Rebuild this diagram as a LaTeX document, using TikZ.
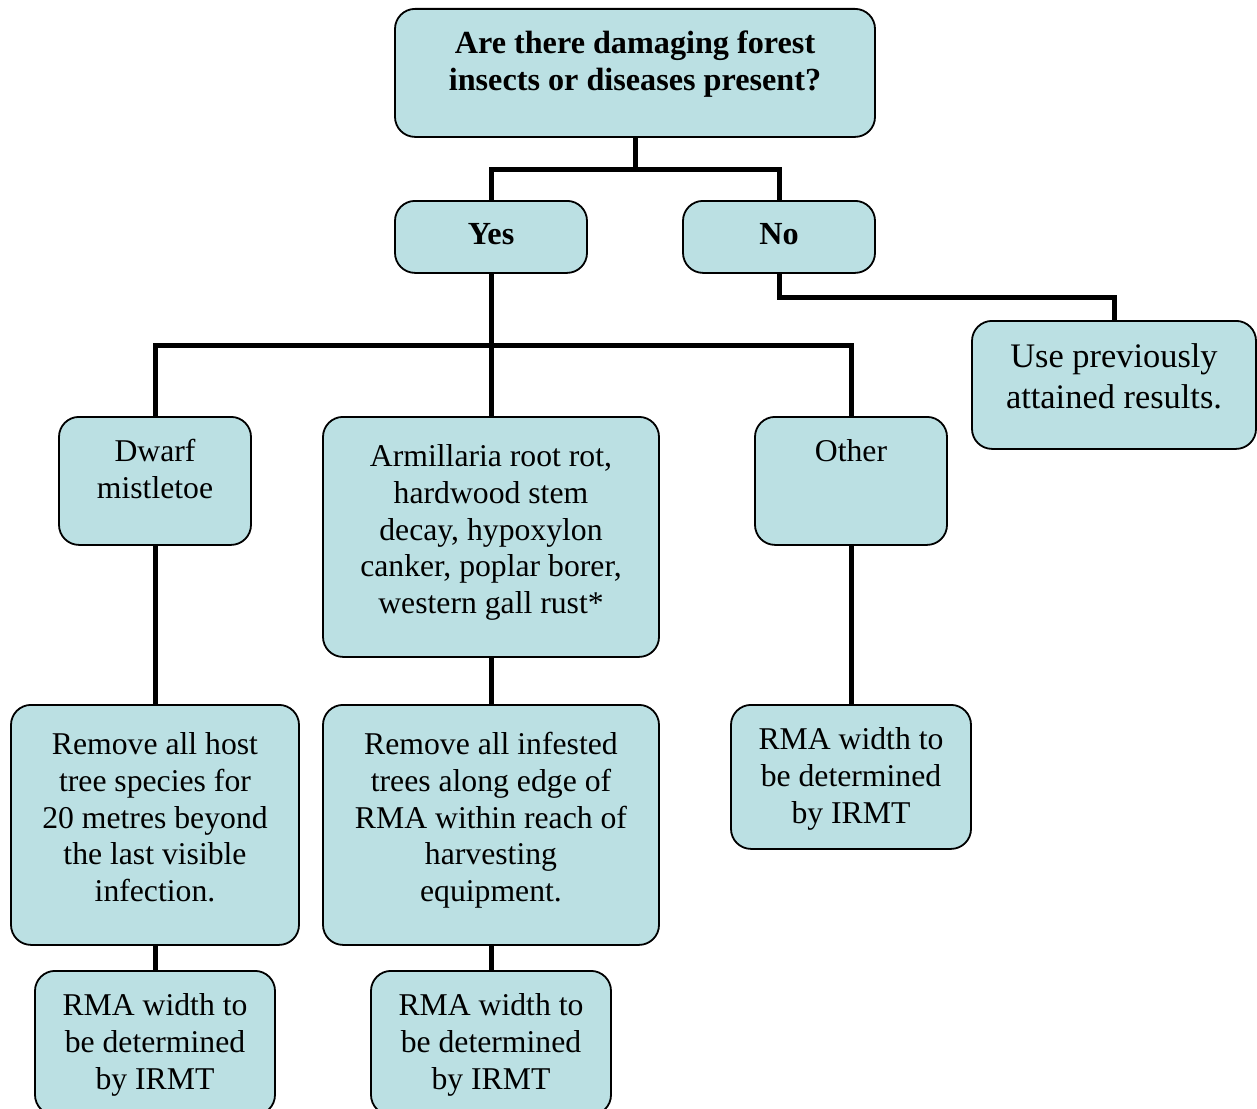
\documentclass[tikz,border=0pt]{standalone}
\usepackage{fontspec}
\setmainfont{Liberation Serif}
\definecolor{boxfill}{RGB}{187,224,227}

\begin{document}
\begin{tikzpicture}[
    x=1pt, y=-1pt,
    box/.style={draw=black, line width=1.8pt, fill=boxfill, rounded corners=20pt, anchor=north,
                align=center, inner xsep=0pt, inner ysep=0pt,
                font=\fontsize{31.7pt}{36.6pt}\selectfont},
    bold box/.style={box, font=\fontsize{32.2pt}{36.6pt}\selectfont\bfseries},
    small box/.style={box, minimum width=192pt},
    wide box/.style={box, minimum width=336pt},
    rma box/.style={box, minimum width=240pt, text height=118.2pt, text depth=25.8pt},
    link/.style={line width=5pt, draw=black}
]
\useasboundingbox (0,0) rectangle (1257,1108);

% question and the two answers
\node[bold box, minimum width=480pt, text height=81.6pt, text depth=46.4pt]
    (Q) at (635, 8) {Are there damaging forest\\insects or diseases present?};
\node[bold box, minimum width=192pt, text height=44pt, text depth=28pt] (Yes) at (491, 200) {Yes};
\node[bold box, minimum width=192pt, text height=44pt, text depth=28pt] (No)  at (779, 200) {No};
\node[box, minimum width=284pt, text height=87.5pt, text depth=40.5pt,
      font=\fontsize{34.4pt}{40.5pt}\selectfont] (Prev) at (1114, 320)
    {Use previously\\attained results.};

% kinds of pests
\node[small box, text height=81.6pt, text depth=46.4pt] (Dwarf) at (155, 416) {Dwarf\\mistletoe};
\node[wide box, text height=196.4pt, text depth=43.6pt] (Root) at (491, 416)
    {Armillaria root rot,\\hardwood stem\\decay, hypoxylon\\canker, poplar borer,\\western gall rust*};
\node[small box, text height=45pt, text depth=83pt] (Other) at (851, 416) {Other};

% treatments
\node[box, minimum width=288pt, text height=196.4pt, text depth=43.6pt] (Host) at (155, 704)
    {Remove all host\\tree species for\\20 metres beyond\\the last visible\\infection.};
\node[wide box, text height=196.4pt, text depth=43.6pt] (Infest) at (491, 704)
    {Remove all infested\\trees along edge of\\RMA within reach of\\harvesting\\equipment.};
\node[rma box] (RmaO) at (851, 704) {RMA width to\\be determined\\by IRMT};

% widths
\node[rma box] (RmaH) at (155, 970) {RMA width to\\be determined\\by IRMT};
\node[rma box] (RmaI) at (491, 970) {RMA width to\\be determined\\by IRMT};

% connectors
\draw[link] (Q.south) -- ++(0,32) coordinate (Qj) -| (Yes.north);
\draw[link] (Qj) -| (No.north);
\draw[link] (No.south) -- ++(0,24) -| (Prev.north);
\draw[link] (Yes.south) -- ++(0,72) coordinate (Yj) -| (Dwarf.north);
\draw[link] (Yj) -| (Other.north);
\draw[link] (Yes.south) -- (Root.north);
\draw[link] (Dwarf.south) -- (Host.north);
\draw[link] (Root.south) -- (Infest.north);
\draw[link] (Other.south) -- (RmaO.north);
\draw[link] (Host.south) -- (RmaH.north);
\draw[link] (Infest.south) -- (RmaI.north);

\end{tikzpicture}
\end{document}
